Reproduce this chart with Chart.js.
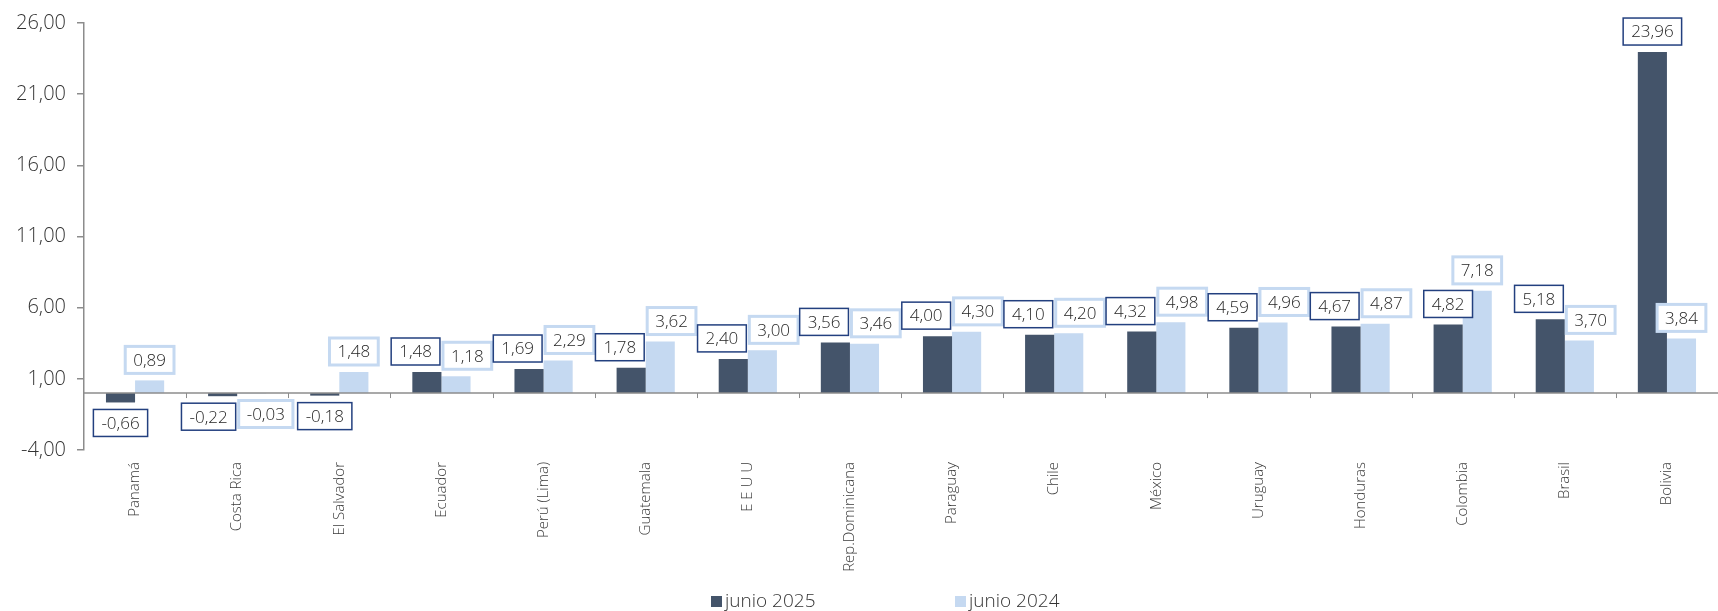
<!DOCTYPE html>
<html>
<head>
<meta charset="utf-8">
<script src="https://cdn.jsdelivr.net/npm/chart.js@4.4.0/dist/chart.umd.min.js"></script>
<style>
  html, body { margin: 0; padding: 0; background: #fff; }
  #wrap { position: relative; width: 1718px; height: 611px; overflow: hidden; }
  .leg { position: absolute; top: 590px; line-height: 20px; font-family: "Open Sans", sans-serif; font-weight: 300; font-size: 19px; color: #333333; white-space: nowrap; }
  .leg i { display: inline-block; width: 11px; height: 11px; margin-right: 3px; vertical-align: 0px; }
</style>
</head>
<body>
<div id="wrap">
  <canvas id="chart" width="1718" height="611"></canvas>
  <div class="leg" style="left:711px"><i style="background:#44546a"></i>junio 2025</div>
  <div class="leg" style="left:955px"><i style="background:#c5d9f1"></i>junio 2024</div>
</div>
<script>
// Countries and values
const categories = ['Panamá', 'Costa Rica', 'El Salvador', 'Ecuador', 'Perú (Lima)', 'Guatemala', 'E E U U',
    'Rep.Dominicana', 'Paraguay', 'Chile', 'México', 'Uruguay', 'Honduras', 'Colombia', 'Brasil', 'Bolivia'];
const junio2025 = [-0.66, -0.22, -0.18, 1.48, 1.69, 1.78, 2.40, 3.56, 4.00, 4.10, 4.32, 4.59, 4.67, 4.82, 5.18, 23.96];
const junio2024 = [0.89, -0.03, 1.48, 1.18, 2.29, 3.62, 3.00, 3.46, 4.30, 4.20, 4.98, 4.96, 4.87, 7.18, 3.70, 3.84];
const yTicks = [-4, 1, 6, 11, 16, 21, 26];

const fmt = v => v.toFixed(2).replace('.', ',');
const FONT = '"Open Sans", sans-serif';

// zero line + category separators
const zeroLine = {
    id: 'zeroLine',
    afterDatasetsDraw(chart) {
        const ctx = chart.ctx;
        const x = chart.scales.x, y = chart.scales.y;
        const y0 = y.getPixelForValue(0);
        ctx.save();
        ctx.strokeStyle = '#8c8c8c';
        ctx.lineWidth = 1.5;
        ctx.beginPath();
        ctx.moveTo(chart.chartArea.left, y0);
        ctx.lineTo(chart.chartArea.right, y0);
        ctx.stroke();
        ctx.lineWidth = 1;
        for (let i = 1; i < categories.length; i++) {
            const bx = Math.round((x.getPixelForValue(i - 1) + x.getPixelForValue(i)) / 2) + 0.5;
            ctx.beginPath();
            ctx.moveTo(bx, y0);
            ctx.lineTo(bx, y0 + 5);
            ctx.stroke();
        }
        ctx.restore();
    }
};

// boxed value labels
const boxLabels = {
    id: 'boxLabels',
    afterDatasetsDraw(chart) {
        const ctx = chart.ctx;
        const styles = [
            { stroke: '#23407f', width: 1.5 },
            { stroke: '#c5d9f1', width: 3 }
        ];
        ctx.save();
        ctx.font = '300 17px ' + FONT;
        for (let i = 0; i < categories.length; i++) {
            const boxes = chart.data.datasets.map((ds, d) => {
                const bar = chart.getDatasetMeta(d).data[i];
                const v = ds.data[i];
                const txt = fmt(v);
                const w = ctx.measureText(txt).width + 16;
                const h = 27;
                const top = v >= 0 ? bar.y - 7 - h : bar.y + 7;
                return { x: bar.x - w / 2, y: top, w, h, txt, d };
            });
            const a = boxes[0], b = boxes[1];
            const overlapY = a.y < b.y + b.h && b.y < a.y + a.h;
            const overlapX = a.x + a.w + 3 - b.x;
            if (overlapY && overlapX > 0) {
                a.x -= overlapX / 2;
                b.x += overlapX / 2;
            }
            boxes.forEach(bx => {
                const s = styles[bx.d];
                ctx.fillStyle = '#ffffff';
                ctx.fillRect(bx.x, bx.y, bx.w, bx.h);
                ctx.strokeStyle = s.stroke;
                ctx.lineWidth = s.width;
                ctx.strokeRect(bx.x, bx.y, bx.w, bx.h);
                ctx.fillStyle = '#262626';
                ctx.textAlign = 'center';
                ctx.textBaseline = 'middle';
                ctx.fillText(bx.txt, bx.x + bx.w / 2, bx.y + bx.h / 2 + 1);
            });
        }
        ctx.restore();
    }
};

new Chart(document.getElementById('chart'), {
    type: 'bar',
    data: {
        labels: categories,
        datasets: [{
            label: 'junio 2025',
            data: junio2025,
            backgroundColor: '#44546a',
            categoryPercentage: 0.57,
            barPercentage: 1
        }, {
            label: 'junio 2024',
            data: junio2024,
            backgroundColor: '#c5d9f1',
            categoryPercentage: 0.57,
            barPercentage: 1
        }]
    },
    options: {
        responsive: false,
        animation: false,
        devicePixelRatio: 1,
        layout: { padding: { top: 19, left: 0, right: 0, bottom: 0 } },
        plugins: {
            legend: { display: false },
            tooltip: { enabled: false }
        },
        scales: {
            x: {
                grid: { display: false },
                border: { display: false },
                ticks: {
                    minRotation: 90,
                    maxRotation: 90,
                    padding: 4,
                    color: '#3a3a3a',
                    font: { family: FONT, size: 15, weight: 300 }
                },
                afterFit(scale) { scale.height = 161; }
            },
            y: {
                min: yTicks[0],
                max: yTicks[yTicks.length - 1],
                afterBuildTicks(scale) { scale.ticks = yTicks.map(v => ({ value: v })); },
                grid: { drawOnChartArea: false, drawTicks: true, tickLength: 7, color: '#8c8c8c', lineWidth: 1.5 },
                border: { color: '#8c8c8c', width: 1.5 },
                ticks: {
                    padding: 11,
                    color: '#333333',
                    font: { family: FONT, size: 20, weight: 300 },
                    callback: v => fmt(v)
                },
                afterFit(scale) { scale.width = 84; }
            }
        }
    },
    plugins: [zeroLine, boxLabels]
});
</script>
</body>
</html>
